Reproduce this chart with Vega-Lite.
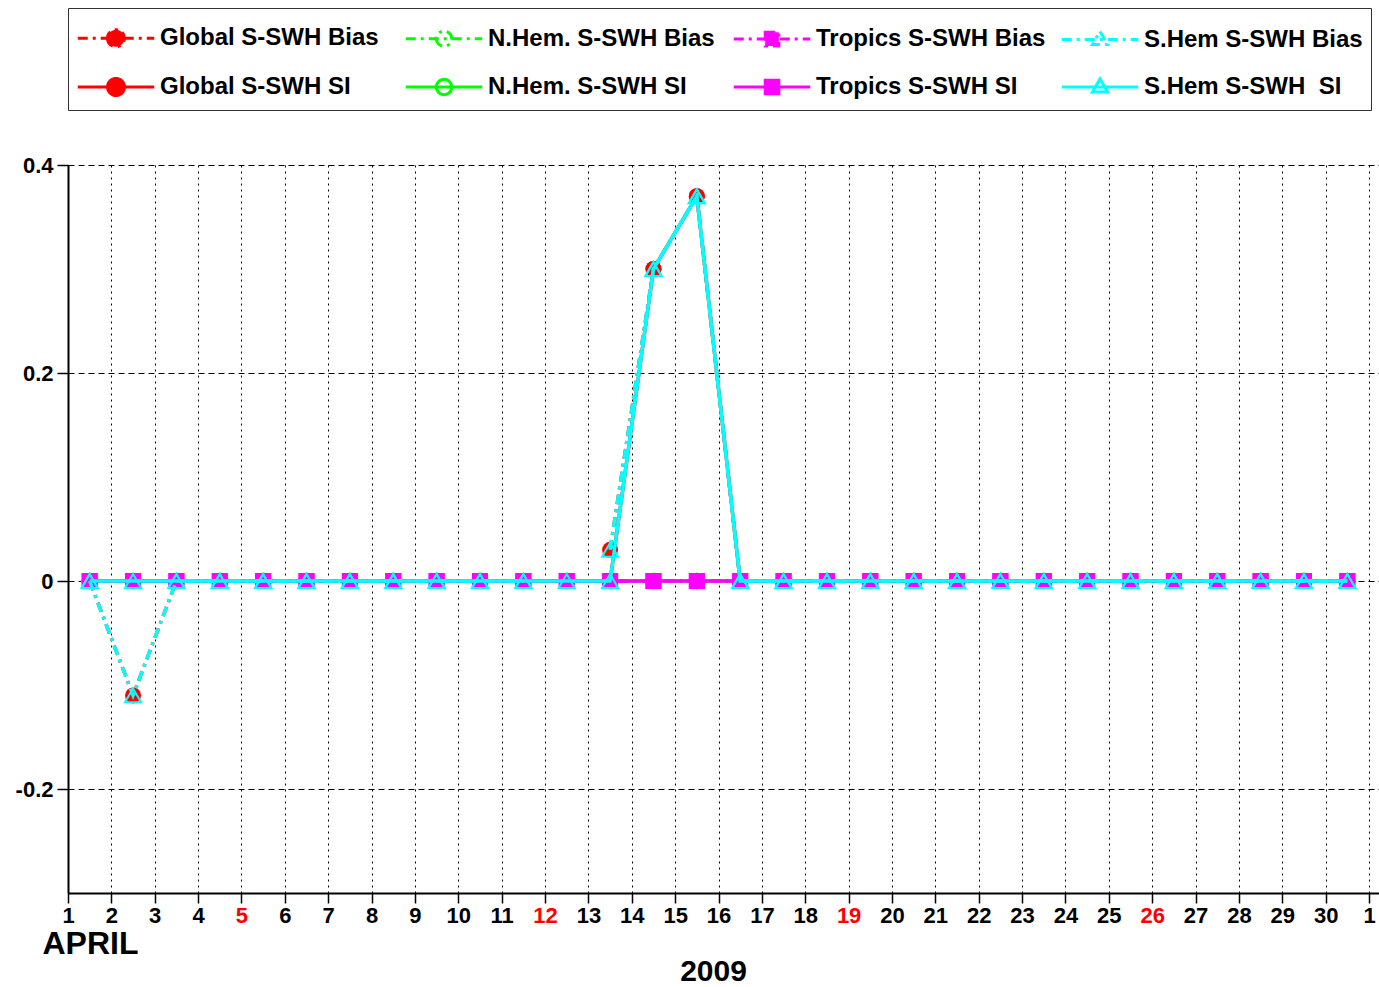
{
  "$schema": "https://vega.github.io/schema/vega-lite/v6.json",
  "width": 1311,
  "height": 728,
  "autosize": {"type": "none"},
  "padding": {"left": 68, "top": 165, "right": 0, "bottom": 94},
  "background": "white",
  "config": {"view": {"stroke": null}, "font": "Liberation Sans"},
  "title": {"text": "2009", "orient": "bottom", "anchor": "middle", "frame": "group", "fontSize": 30, "fontWeight": "bold", "color": "black", "font": "Liberation Sans", "offset": -2, "dx": -10},
  "data": {"values": [
    {"day": 1.5, "gb": 0, "nb": 0, "tb": 0, "sb": 0, "gs": 0, "ns": 0, "ts": 0, "ss": 0},
    {"day": 2.5, "gb": -0.11, "nb": 0, "tb": 0, "sb": -0.11, "gs": 0, "ns": 0, "ts": 0, "ss": 0},
    {"day": 3.5, "gb": 0, "nb": 0, "tb": 0, "sb": 0, "gs": 0, "ns": 0, "ts": 0, "ss": 0},
    {"day": 4.5, "gb": 0, "nb": 0, "tb": 0, "sb": 0, "gs": 0, "ns": 0, "ts": 0, "ss": 0},
    {"day": 5.5, "gb": 0, "nb": 0, "tb": 0, "sb": 0, "gs": 0, "ns": 0, "ts": 0, "ss": 0},
    {"day": 6.5, "gb": 0, "nb": 0, "tb": 0, "sb": 0, "gs": 0, "ns": 0, "ts": 0, "ss": 0},
    {"day": 7.5, "gb": 0, "nb": 0, "tb": 0, "sb": 0, "gs": 0, "ns": 0, "ts": 0, "ss": 0},
    {"day": 8.5, "gb": 0, "nb": 0, "tb": 0, "sb": 0, "gs": 0, "ns": 0, "ts": 0, "ss": 0},
    {"day": 9.5, "gb": 0, "nb": 0, "tb": 0, "sb": 0, "gs": 0, "ns": 0, "ts": 0, "ss": 0},
    {"day": 10.5, "gb": 0, "nb": 0, "tb": 0, "sb": 0, "gs": 0, "ns": 0, "ts": 0, "ss": 0},
    {"day": 11.5, "gb": 0, "nb": 0, "tb": 0, "sb": 0, "gs": 0, "ns": 0, "ts": 0, "ss": 0},
    {"day": 12.5, "gb": null, "nb": 0, "tb": 0, "sb": null, "gs": 0, "ns": 0, "ts": 0, "ss": 0},
    {"day": 13.5, "gb": 0.03, "nb": 0, "tb": 0, "sb": 0.03, "gs": 0, "ns": 0, "ts": 0, "ss": 0},
    {"day": 14.5, "gb": 0.3, "nb": 0, "tb": 0, "sb": 0.3, "gs": 0.3, "ns": 0, "ts": 0, "ss": 0.3},
    {"day": 15.5, "gb": 0.37, "nb": 0, "tb": 0, "sb": 0.37, "gs": 0.37, "ns": 0, "ts": 0, "ss": 0.37},
    {"day": 16.5, "gb": 0, "nb": 0, "tb": 0, "sb": 0, "gs": 0, "ns": 0, "ts": 0, "ss": 0},
    {"day": 17.5, "gb": 0, "nb": 0, "tb": 0, "sb": 0, "gs": 0, "ns": 0, "ts": 0, "ss": 0},
    {"day": 18.5, "gb": 0, "nb": 0, "tb": 0, "sb": 0, "gs": 0, "ns": 0, "ts": 0, "ss": 0},
    {"day": 19.5, "gb": 0, "nb": 0, "tb": 0, "sb": 0, "gs": 0, "ns": 0, "ts": 0, "ss": 0},
    {"day": 20.5, "gb": 0, "nb": 0, "tb": 0, "sb": 0, "gs": 0, "ns": 0, "ts": 0, "ss": 0},
    {"day": 21.5, "gb": 0, "nb": 0, "tb": 0, "sb": 0, "gs": 0, "ns": 0, "ts": 0, "ss": 0},
    {"day": 22.5, "gb": 0, "nb": 0, "tb": 0, "sb": 0, "gs": 0, "ns": 0, "ts": 0, "ss": 0},
    {"day": 23.5, "gb": 0, "nb": 0, "tb": 0, "sb": 0, "gs": 0, "ns": 0, "ts": 0, "ss": 0},
    {"day": 24.5, "gb": 0, "nb": 0, "tb": 0, "sb": 0, "gs": 0, "ns": 0, "ts": 0, "ss": 0},
    {"day": 25.5, "gb": 0, "nb": 0, "tb": 0, "sb": 0, "gs": 0, "ns": 0, "ts": 0, "ss": 0},
    {"day": 26.5, "gb": 0, "nb": 0, "tb": 0, "sb": 0, "gs": 0, "ns": 0, "ts": 0, "ss": 0},
    {"day": 27.5, "gb": 0, "nb": 0, "tb": 0, "sb": 0, "gs": 0, "ns": 0, "ts": 0, "ss": 0},
    {"day": 28.5, "gb": 0, "nb": 0, "tb": 0, "sb": 0, "gs": 0, "ns": 0, "ts": 0, "ss": 0},
    {"day": 29.5, "gb": 0, "nb": 0, "tb": 0, "sb": 0, "gs": 0, "ns": 0, "ts": 0, "ss": 0},
    {"day": 30.5, "gb": 0, "nb": 0, "tb": 0, "sb": 0, "gs": 0, "ns": 0, "ts": 0, "ss": 0}
  ]},
  "transform": [{"fold": ["gb", "nb", "tb", "sb", "gs", "ns", "ts", "ss"], "as": ["series", "value"]}],
  "encoding": {
    "x": {
      "field": "day", "type": "quantitative",
      "scale": {"domain": [1, 31.23], "nice": false, "zero": false},
      "axis": {
        "values": [1,2,3,4,5,6,7,8,9,10,11,12,13,14,15,16,17,18,19,20,21,22,23,24,25,26,27,28,29,30,31],
        "title": "APRIL", "titleFontSize": 32, "titleFontWeight": "bold", "titleFont": "Liberation Sans", "titleColor": "black",
        "titleX": -26, "titleY": 60, "titleAlign": "left", "titleBaseline": "alphabetic", "titleAnchor": "start",
        "labelExpr": "datum.value == 31 ? '1' : datum.label",
        "labelFontSize": 22, "labelFontWeight": "bold", "labelFont": "Liberation Sans",
        "labelColor": {"condition": {"test": "indexof([5,12,19,26], datum.value) >= 0", "value": "#ff0000"}, "value": "black"},
        "labelPadding": 2, "labelFlush": false, "labelOverlap": false,
        "tickSize": 10, "tickColor": "black", "tickWidth": 1.5,
        "domainColor": "black", "domainWidth": 2,
        "grid": true, "gridColor": "black", "gridDash": [2, 4], "gridOpacity": 1, "gridWidth": 1
      }
    },
    "y": {
      "field": "value", "type": "quantitative",
      "scale": {"domain": [-0.3, 0.4], "nice": false, "zero": false},
      "axis": {
        "values": [-0.2, 0, 0.2, 0.4], "title": null,
        "labelExpr": "datum.value == 0 ? '0' : (datum.value < 0 ? '-' + format(-datum.value, '.1f') : format(datum.value, '.1f'))",
        "labelFontSize": 22, "labelFontWeight": "bold", "labelFont": "Liberation Sans", "labelColor": "black",
        "labelPadding": 4, "labelFlush": false,
        "tickSize": 11, "tickColor": "black", "tickWidth": 1.5,
        "domainColor": "black", "domainWidth": 2,
        "grid": true, "gridColor": "black", "gridDash": [6, 4], "gridOpacity": 1, "gridWidth": 1
      }
    },
    "color": {
      "field": "series", "type": "nominal",
      "scale": {"domain": ["gb", "nb", "tb", "sb", "gs", "ns", "ts", "ss"], "range": ["#ff0000", "#00ff00", "#ff00ff", "#00ffff", "#ff0000", "#00ff00", "#ff00ff", "#00ffff"]},
      "legend": {
        "title": " ", "titleFontSize": 1, "titlePadding": 9,
        "orient": "none", "legendX": 0, "legendY": -157,
        "direction": "horizontal", "columns": 4, "columnPadding": 9, "rowPadding": 19, "gridAlign": "all",
        "padding": 8, "strokeColor": "#333333", "fillColor": "white",
        "symbolSize": 289, "symbolStrokeWidth": 2.5, "symbolOffset": 28, "labelOffset": 32,
        "labelFontSize": 24, "labelFontWeight": "bold", "labelFont": "Liberation Sans", "labelColor": "black", "labelLimit": 0,
        "labelExpr": "{'gb':'Global S-SWH Bias','nb':'N.Hem. S-SWH Bias','tb':'Tropics S-SWH Bias','sb':'S.Hem S-SWH Bias','gs':'Global S-SWH SI','ns':'N.Hem. S-SWH SI','ts':'Tropics S-SWH SI','ss':'S.Hem S-SWH\u00a0 SI'}[datum.value]",
        "encode": {
          "symbols": {
            "update": {
              "shape": {"signal": "{'gb':'M-4.5,0H4.5M-1,0A1,1 0 1,0 1,0A1,1 0 1,0 -1,0','nb':'M-4.5,0H4.5M-0.9,0A0.9,0.9 0 1,0 0.9,0A0.9,0.9 0 1,0 -0.9,0','tb':'M-4.5,0H4.5M-0.8,-0.8H0.8V0.8H-0.8Z','sb':'M-4.5,0H4.5M0,-0.95L0.9,0.6H-0.9Z','gs':'M-4.5,0H4.5M-1,0A1,1 0 1,0 1,0A1,1 0 1,0 -1,0','ns':'M-4.5,0H4.5M-0.9,0A0.9,0.9 0 1,0 0.9,0A0.9,0.9 0 1,0 -0.9,0','ts':'M-4.5,0H4.5M-0.8,-0.8H0.8V0.8H-0.8Z','ss':'M-4.5,0H4.5M0,-0.95L0.9,0.6H-0.9Z'}[datum.value]"},
              "fillOpacity": {"signal": "indexof(['nb','sb','ns','ss'], datum.value) >= 0 ? 0 : 1"},
              "strokeDash": {"signal": "indexof(['gb','nb','tb','sb'], datum.value) >= 0 ? [14, 6, 3, 6] : [1, 0]"},
              "strokeWidth": {"value": 3}
            }
          }
        }
      }
    }
  },
  "layer": [
    {
      "transform": [{"filter": {"field": "series", "oneOf": ["gb", "gs"]}}],
      "mark": {"type": "line", "strokeWidth": 3.5, "invalid": "break-paths-show-domains"},
      "encoding": {"strokeDash": {"field": "series", "type": "nominal", "legend": null, "scale": {"domain": ["gb", "nb", "tb", "sb", "gs", "ns", "ts", "ss"], "range": [[10, 5, 3, 5], [10, 5, 3, 5], [10, 5, 3, 5], [10, 5, 3, 5], [1, 0], [1, 0], [1, 0], [1, 0]]}}}
    },
    {
      "transform": [{"filter": {"field": "series", "oneOf": ["gb", "gs"]}}],
      "mark": {"type": "point", "filled": true, "shape": "circle", "size": 256, "opacity": 1}
    },
    {
      "transform": [{"filter": {"field": "series", "oneOf": ["nb", "ns"]}}],
      "mark": {"type": "line", "strokeWidth": 3.5, "invalid": "break-paths-show-domains"},
      "encoding": {"strokeDash": {"field": "series", "type": "nominal", "legend": null}}
    },
    {
      "transform": [{"filter": {"field": "series", "oneOf": ["nb", "ns"]}}],
      "mark": {"type": "point", "filled": false, "shape": "circle", "size": 220, "strokeWidth": 1.5, "opacity": 1}
    },
    {
      "transform": [{"filter": {"field": "series", "oneOf": ["tb", "ts"]}}],
      "mark": {"type": "line", "strokeWidth": 3.5, "invalid": "break-paths-show-domains"},
      "encoding": {"strokeDash": {"field": "series", "type": "nominal", "legend": null}}
    },
    {
      "transform": [{"filter": {"field": "series", "oneOf": ["tb", "ts"]}}],
      "mark": {"type": "point", "filled": true, "shape": "square", "size": 256, "opacity": 1}
    },
    {
      "transform": [{"filter": {"field": "series", "oneOf": ["sb", "ss"]}}],
      "mark": {"type": "line", "strokeWidth": 3.5, "invalid": "break-paths-show-domains"},
      "encoding": {"strokeDash": {"field": "series", "type": "nominal", "legend": null}}
    },
    {
      "transform": [{"filter": {"field": "series", "oneOf": ["sb", "ss"]}}],
      "mark": {"type": "point", "filled": false, "shape": "triangle-up", "size": 256, "strokeWidth": 2, "opacity": 1}
    }
  ]
}
